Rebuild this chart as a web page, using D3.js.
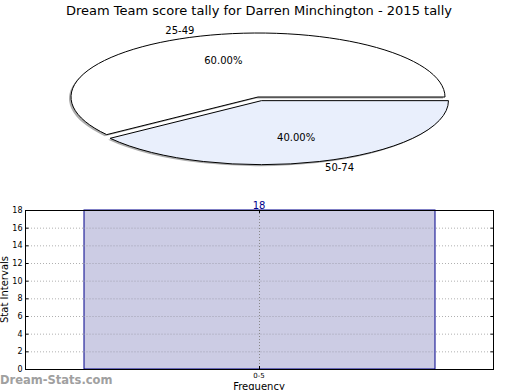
<!DOCTYPE html>
<html>
<head>
<meta charset="utf-8">
<script src="https://cdn.jsdelivr.net/npm/d3@7"></script>
<style>
  body { margin: 0; background: #fff; }
  text { font-family: "DejaVu Sans", sans-serif; }
</style>
</head>
<body>
<div id="chart"></div>
<script>
var WIDTH = 520, HEIGHT = 390;

// pie data
var pieLabels = ["25-49", "50-74"];
var pieCounts = [3, 2];
var pieColors = ["#ffffff", "#e9effc"];
var pieExplode = [0, 0.06];

// bar data
var barCats = ["0-5"];
var barValues = [18];
var yTicks = [0, 2, 4, 6, 8, 10, 12, 14, 16, 18];

var svg = d3.select("#chart").append("svg")
  .attr("width", WIDTH)
  .attr("height", HEIGHT);

svg.append("text")
  .attr("x", 259).attr("y", 15)
  .attr("text-anchor", "middle")
  .style("font-size", "13px")
  .text("Dream Team score tally for Darren Minchington - 2015 tally");

/* ---- pie (squashed to an ellipse) ---- */
var cx = 258, cy = 97, rx = 187, ry = 64;

var pie = d3.pie().sort(null)
  .startAngle(Math.PI / 2)
  .endAngle(Math.PI / 2 - 2 * Math.PI);
var arcs = pie(pieCounts);
var unitArc = d3.arc().innerRadius(0).outerRadius(1);

function offset(d, i) {
  var mid = (d.startAngle + d.endAngle) / 2;
  return [Math.sin(mid) * pieExplode[i] * rx, -Math.cos(mid) * pieExplode[i] * ry];
}

var pg = svg.append("g");

// shadows
pg.selectAll("path.shadow")
  .data(arcs).enter().append("path")
  .attr("class", "shadow")
  .attr("transform", function(d, i) {
    var o = offset(d, i);
    return "translate(" + (cx + o[0] - 2) + "," + (cy + o[1] + 1.5) + ") scale(" + rx + "," + ry + ")";
  })
  .attr("d", unitArc)
  .style("fill", "#777")
  .style("fill-opacity", 0.6);

pg.selectAll("path.wedge")
  .data(arcs).enter().append("path")
  .attr("class", "wedge")
  .attr("transform", function(d, i) {
    var o = offset(d, i);
    return "translate(" + (cx + o[0]) + "," + (cy + o[1]) + ") scale(" + rx + "," + ry + ")";
  })
  .attr("d", unitArc)
  .attr("vector-effect", "non-scaling-stroke")
  .style("fill", function(d, i) { return pieColors[i]; })
  .style("stroke", "#000")
  .style("stroke-width", 1);

arcs.forEach(function(d, i) {
  var o = offset(d, i);
  var mid = (d.startAngle + d.endAngle) / 2;
  var sx = Math.sin(mid), sy = -Math.cos(mid);
  var total = d3.sum(pieCounts);
  pg.append("text")
    .attr("x", cx + o[0] + sx * rx * 1.1)
    .attr("y", cy + o[1] + sy * ry * 1.1)
    .attr("dy", "0.35em")
    .attr("text-anchor", sx < 0 ? "end" : "start")
    .style("font-size", "10px")
    .text(pieLabels[i]);
  pg.append("text")
    .attr("x", cx + o[0] + sx * rx * 0.6)
    .attr("y", cy + o[1] + sy * ry * 0.6)
    .attr("dy", "0.35em")
    .attr("text-anchor", "middle")
    .style("font-size", "10px")
    .text((pieCounts[i] / total * 100).toFixed(2) + "%");
});

/* ---- bar chart ---- */
var margin = {left: 25, right: 493, top: 210, bottom: 369};

var xScale = d3.scaleBand().domain(barCats)
  .range([margin.left, margin.right])
  .paddingInner(0).paddingOuter(1 / 6);
var yScale = d3.scaleLinear().domain([0, 18]).range([margin.bottom, margin.top]);

var bg = svg.append("g");

// horizontal grid
bg.selectAll("line.hgrid")
  .data(yTicks.slice(1, -1)).enter().append("line")
  .attr("x1", margin.left).attr("x2", margin.right)
  .attr("y1", function(d) { return yScale(d) + 0.5; })
  .attr("y2", function(d) { return yScale(d) + 0.5; })
  .style("stroke", "#b0b0b0")
  .style("stroke-width", 1)
  .style("stroke-dasharray", "1,2");

// bars
bg.selectAll("rect.bar")
  .data(barValues).enter().append("rect")
  .attr("x", function(d, i) { return xScale(barCats[i]) + 0.5; })
  .attr("y", function(d) { return yScale(d); })
  .attr("width", xScale.bandwidth())
  .attr("height", function(d) { return yScale(0) - yScale(d); })
  .style("fill", "#ccccE4")
  .style("stroke", "#00008b")
  .style("stroke-width", 1);

// grid over bars (dotted shows through)
bg.selectAll("line.hgrid2")
  .data(yTicks.slice(1, -1)).enter().append("line")
  .attr("x1", xScale(barCats[0])).attr("x2", xScale(barCats[0]) + xScale.bandwidth())
  .attr("y1", function(d) { return yScale(d) + 0.5; })
  .attr("y2", function(d) { return yScale(d) + 0.5; })
  .style("stroke", "#a0a0b0")
  .style("stroke-width", 1)
  .style("stroke-dasharray", "1,2");

// vertical grid at category
barCats.forEach(function(c) {
  var x = Math.round(xScale(c) + xScale.bandwidth() / 2) + 0.5;
  bg.append("line")
    .attr("x1", x).attr("x2", x)
    .attr("y1", margin.top).attr("y2", margin.bottom)
    .style("stroke", "#888")
    .style("stroke-dasharray", "1,2");
  bg.append("line")
    .attr("x1", x).attr("x2", x)
    .attr("y1", margin.bottom).attr("y2", margin.bottom - 3)
    .style("stroke", "#000");
  bg.append("line")
    .attr("x1", x).attr("x2", x)
    .attr("y1", margin.top).attr("y2", margin.top + 3)
    .style("stroke", "#000");
});

// value labels
bg.selectAll("text.val")
  .data(barValues).enter().append("text")
  .attr("x", function(d, i) { return xScale(barCats[i]) + xScale.bandwidth() / 2; })
  .attr("y", function(d) { return yScale(d) - 1; })
  .attr("text-anchor", "middle")
  .style("font-size", "10px")
  .style("fill", "#00008b")
  .text(function(d) { return d; });

// frame
bg.append("rect")
  .attr("x", margin.left + 0.5).attr("y", margin.top + 0.5)
  .attr("width", margin.right - margin.left)
  .attr("height", margin.bottom - margin.top)
  .style("fill", "none")
  .style("stroke", "#000");

// y axis
var yAxis = bg.append("g")
  .attr("transform", "translate(" + (margin.left + 0.5) + ",0)")
  .call(d3.axisLeft(yScale).tickValues(yTicks).tickSize(-3).tickPadding(3))
  .call(function(g) { g.select(".domain").remove(); });
yAxis.selectAll("text").style("font-size", "8px").style("font-family", "DejaVu Sans");

bg.append("g")
  .attr("transform", "translate(" + (margin.right + 0.5) + ",0)")
  .call(d3.axisRight(yScale).tickValues(yTicks).tickSize(-3).tickFormat(""))
  .call(function(g) { g.select(".domain").remove(); });

// x tick labels
barCats.forEach(function(c) {
  bg.append("text")
    .attr("x", xScale(c) + xScale.bandwidth() / 2)
    .attr("y", margin.bottom + 9)
    .attr("text-anchor", "middle")
    .style("font-size", "7px")
    .text(c);
});

bg.append("text")
  .attr("x", 259).attr("y", 389.5)
  .attr("text-anchor", "middle")
  .style("font-size", "10px")
  .text("Frequency");

bg.append("text")
  .attr("transform", "translate(8," + ((margin.top + margin.bottom) / 2) + ") rotate(-90)")
  .attr("text-anchor", "middle")
  .style("font-size", "10px")
  .text("Stat Intervals");

svg.append("text")
  .attr("x", 0).attr("y", 384)
  .style("font-size", "11.5px")
  .style("font-weight", "bold")
  .style("fill", "#a0a0a0")
  .text("Dream-Stats.com");
</script>
</body>
</html>
